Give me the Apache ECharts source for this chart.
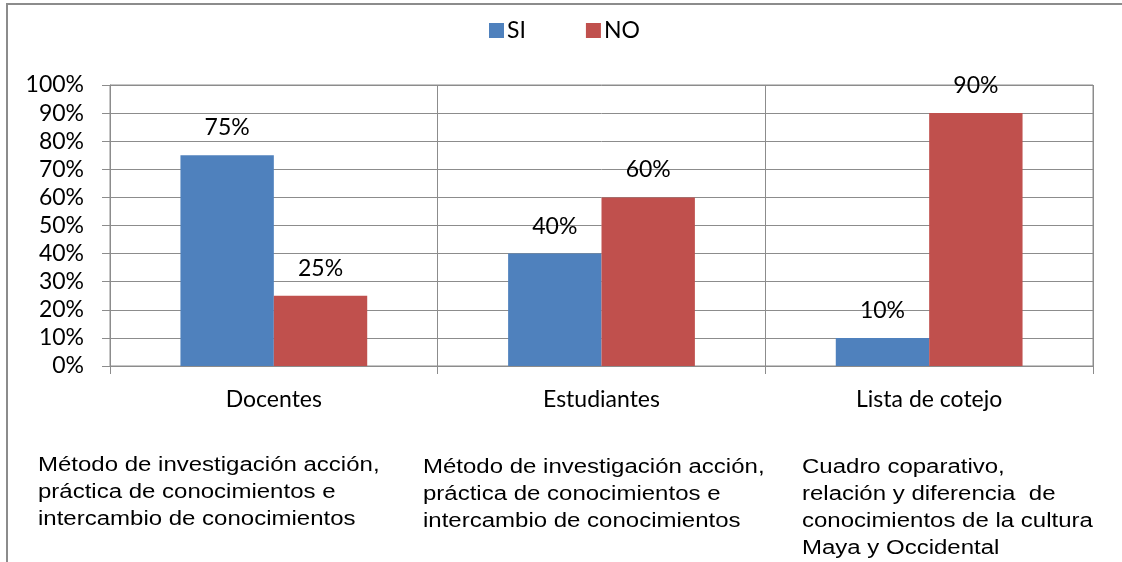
<!DOCTYPE html>
<html>
<head>
<meta charset="utf-8">
<title>SI / NO</title>
<script src="https://cdn.jsdelivr.net/npm/echarts@6/dist/echarts.min.js"></script>
<style>
    html, body { margin: 0; padding: 0; background: #fff; }
    #main { width: 1122px; height: 562px; }
</style>
</head>
<body>
<div id="main"></div>
<script>
// 数据
var categories = ['Docentes', 'Estudiantes', 'Lista de cotejo'];
var siValues = [75, 40, 10];
var noValues = [25, 60, 90];
var seriesNames = ['SI', 'NO'];
var notes = [
    'Método de investigación acción,\npráctica de conocimientos e\nintercambio de conocimientos',
    'Método de investigación acción,\npráctica de conocimientos e\nintercambio de conocimientos',
    'Cuadro coparativo,\nrelación y diferencia  de\nconocimientos de la cultura\nMaya y Occidental'
];
var notePos = [[38, 452], [423, 454], [802, 454]];

var gray = '#8c8c8c';
var chartFont = 'Lato';
var fs = 23;

var myChart = echarts.init(document.getElementById('main'));

// 说明文字 + 外框
var graphics = [{
    type: 'polyline',
    shape: { points: [[7, 562], [7, 4], [1122, 4]] },
    style: { stroke: gray, lineWidth: 2, fill: null },
    silent: true
}];
for (var i = 0; i < notes.length; i++) {
    graphics.push({
        type: 'text',
        x: notePos[i][0],
        y: notePos[i][1],
        scaleX: 1.2,
        style: {
            text: notes[i],
            font: '20px "Liberation Sans", Arial, sans-serif',
            lineHeight: 27,
            fill: '#000',
            verticalAlign: 'top',
            align: 'left'
        }
    });
}

var lbl = { show: true, position: 'top', distance: 16, formatter: '{c}%', fontSize: fs, color: '#000', fontFamily: chartFont };

var option = {
    animation: false,
    textStyle: { fontFamily: chartFont },
    legend: {
        data: seriesNames,
        left: 484,
        top: 14,
        itemWidth: 15,
        itemHeight: 15,
        itemGap: 60,
        icon: 'rect',
        textStyle: { fontSize: fs, color: '#000', fontFamily: chartFont, padding: [0, 0, 0, -2] }
    },
    grid: {
        left: 110,
        right: 29,
        top: 85,
        bottom: 196,
        show: true,
        borderColor: gray,
        borderWidth: 1
    },
    xAxis: {
        type: 'category',
        data: categories,
        axisLine: { lineStyle: { color: gray, width: 1 } },
        axisTick: { show: true, length: 8, interval: 0, lineStyle: { color: gray } },
        splitLine: { show: true, interval: 0, lineStyle: { color: gray, width: 1 } },
        axisLabel: { margin: 22, fontSize: fs, color: '#000', fontFamily: chartFont }
    },
    yAxis: {
        type: 'value',
        min: 0,
        max: 100,
        interval: 10,
        axisLine: { show: true, lineStyle: { color: gray, width: 1 } },
        axisTick: { show: true, length: 8, lineStyle: { color: gray } },
        splitLine: { show: true, lineStyle: { color: gray, width: 1 } },
        axisLabel: { formatter: '{value}%', margin: 26, fontSize: fs, color: '#000', fontFamily: chartFont }
    },
    series: [{
        name: seriesNames[0],
        type: 'bar',
        data: siValues,
        barGap: '0%',
        barCategoryGap: '43%',
        itemStyle: { color: '#4F81BD' },
        label: lbl
    }, {
        name: seriesNames[1],
        type: 'bar',
        data: noValues,
        barGap: '0%',
        barCategoryGap: '43%',
        itemStyle: { color: '#C0504D' },
        label: lbl
    }],
    graphic: graphics
};

myChart.setOption(option);
</script>
</body>
</html>
